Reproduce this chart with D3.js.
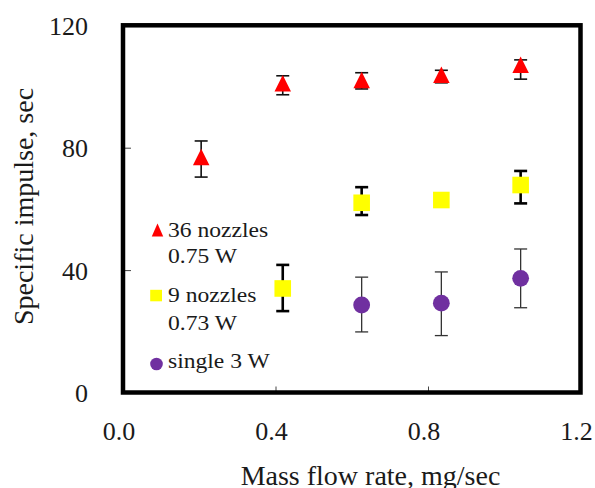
<!DOCTYPE html>
<html><head><meta charset="utf-8">
<script src="https://cdn.jsdelivr.net/npm/d3@7"></script>
<style>body{margin:0;background:#fff}svg{display:block}text{font-family:"Liberation Serif","Times New Roman",serif;fill:#1a1a1a}</style>
</head><body><div id="chart"></div>
<script>
// Data
const xTicks = [0.0, 0.4, 0.8, 1.2];
const yTicks = [0, 40, 80, 120];
const s36x = [0.205, 0.419, 0.626, 0.835, 1.043];
const s36y = [77.0, 101.1, 102.1, 103.8, 107.1];
const s36lo = [70.4, 97.3, 99.2, 101.2, 102.4];
const s36hi = [82.2, 103.5, 104.5, 105.3, 108.7];
const s9x = [0.419, 0.626, 0.835, 1.043];
const s9y = [34.0, 62.0, 62.9, 67.8];
const s9lo = [26.6, 58.0, null, 61.8];
const s9hi = [41.7, 67.1, null, 72.4];
const s1x = [0.626, 0.835, 1.043];
const s1y = [28.6, 29.2, 37.3];
const s1lo = [19.8, 18.6, 27.7];
const s1hi = [37.7, 39.4, 46.9];
const legendLines = [["36 nozzles", "0.75 W"], ["9 nozzles", "0.73 W"], ["single 3 W"]];

const W = 595, H = 488;
const L = 123, R = 580.5, T = 25.3, B = 392.5;
const svg = d3.select("#chart").append("svg").attr("width", W).attr("height", H);
svg.append("rect").attr("width", W).attr("height", H).attr("fill", "#fff");

const x = d3.scaleLinear().domain([0, 1.2]).range([L, R]);
const y = d3.scaleLinear().domain([0, 120]).range([B, T]);

// inner ticks
const gx = svg.append("g").attr("transform", `translate(0,${B})`)
  .call(d3.axisBottom(x).tickValues(xTicks.slice(1, -1)).tickSizeInner(-6).tickSizeOuter(0).tickFormat(""));
gx.select(".domain").remove();
gx.selectAll("line").attr("stroke", "#444").attr("stroke-width", 1);
const gy = svg.append("g").attr("transform", `translate(${L},0)`)
  .call(d3.axisLeft(y).tickValues(yTicks.slice(1, -1)).tickSizeInner(-8).tickSizeOuter(0).tickFormat(""));
gy.select(".domain").remove();
gy.selectAll("line").attr("stroke", "#444").attr("stroke-width", 1);

// tick labels
svg.append("g").selectAll("text").data(xTicks).join("text")
  .attr("x", d => x(d) - 4).attr("y", 440).attr("text-anchor", "middle")
  .attr("font-size", 26).text(d => d.toFixed(1));
svg.append("g").selectAll("text").data(yTicks).join("text")
  .attr("x", 88).attr("y", d => y(d) + 9.5).attr("text-anchor", "end")
  .attr("font-size", 26).text(d => d);

// frame
svg.append("rect").attr("x", L).attr("y", T).attr("width", R - L).attr("height", B - T)
  .attr("fill", "none").attr("stroke", "#000").attr("stroke-width", 4.5);

// titles
svg.append("text").attr("x", 370.5).attr("y", 485).attr("text-anchor", "middle")
  .attr("font-size", 28).text("Mass flow rate, mg/sec");
svg.append("text").attr("transform", "translate(33,206.5) rotate(-90)").attr("text-anchor", "middle")
  .attr("font-size", 28).text("Specific impulse, sec");

function errBars(xs, lo, hi, color, sw) {
  const g = svg.append("g").attr("stroke", color).attr("stroke-width", sw).attr("fill", "none");
  xs.forEach((xv, i) => {
    if (lo[i] == null) return;
    const px = x(xv), cw = 6.5;
    g.append("line").attr("x1", px).attr("x2", px).attr("y1", y(lo[i])).attr("y2", y(hi[i]));
    g.append("line").attr("x1", px - cw).attr("x2", px + cw).attr("y1", y(lo[i])).attr("y2", y(lo[i]));
    g.append("line").attr("x1", px - cw).attr("x2", px + cw).attr("y1", y(hi[i])).attr("y2", y(hi[i]));
  });
}
const tri = (w, h) => `M0,${-h/2}L${w/2},${h/2}L${-w/2},${h/2}Z`;

// error bars
errBars(s36x, s36lo, s36hi, "#111", 1.6);
errBars(s9x, s9lo, s9hi, "#000", 2.6);
errBars(s1x, s1lo, s1hi, "#333", 1.3);

// markers
svg.append("g").selectAll("path").data(s36x).join("path")
  .attr("transform", (d, i) => `translate(${x(d)},${y(s36y[i])})`)
  .attr("d", tri(16.5, 16.5)).attr("fill", "#ff0000");
svg.append("g").selectAll("rect").data(s9x).join("rect")
  .attr("x", d => x(d) - 8.3).attr("y", (d, i) => y(s9y[i]) - 8.3)
  .attr("width", 16.6).attr("height", 16.6).attr("fill", "#ffff00");
svg.append("g").selectAll("circle").data(s1x).join("circle")
  .attr("cx", d => x(d)).attr("cy", (d, i) => y(s1y[i])).attr("r", 8.4).attr("fill", "#7030a0");

// legend
const lg = svg.append("g");
lg.append("path").attr("transform", "translate(157.5,230)").attr("d", tri(11.5, 13)).attr("fill", "#ff0000");
lg.append("rect").attr("x", 150.2).attr("y", 289.8).attr("width", 11.8).attr("height", 11.5).attr("fill", "#ffff00");
lg.append("circle").attr("cx", 156.5).attr("cy", 364).attr("r", 6.3).attr("fill", "#7030a0");
const baselines = [[237, 263], [302, 330], [368]];
legendLines.forEach((lines, i) => {
  lines.forEach((t, j) => {
    lg.append("text").attr("transform", `translate(168,${baselines[i][j]}) scale(1.15,1)`)
      .attr("font-size", 20.5).text(t);
  });
});
</script></body></html>
